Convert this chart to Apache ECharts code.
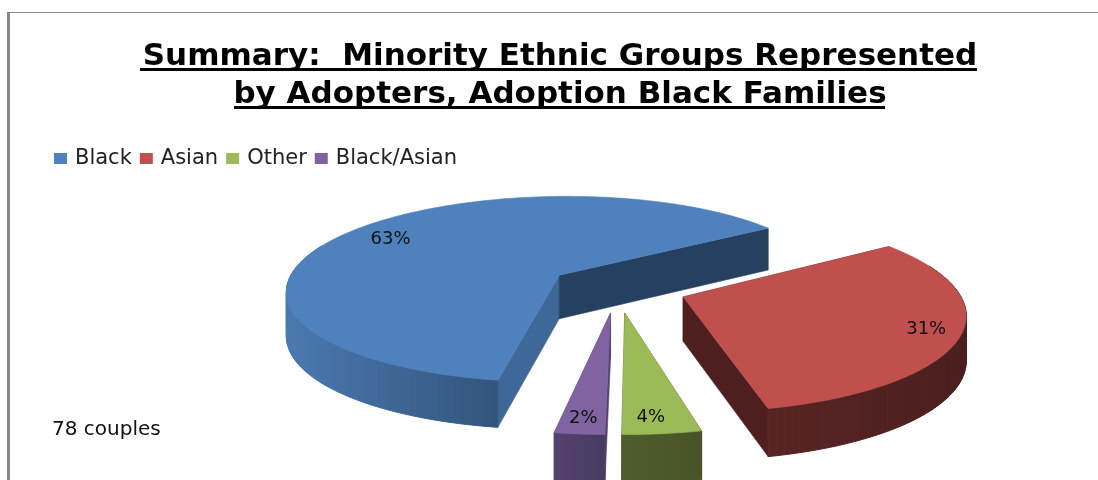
<!DOCTYPE html>
<html><head><meta charset="utf-8">
<style>html,body{margin:0;padding:0;background:#fff}#c{width:1098px;height:480px;filter:blur(0.4px)}</style>
<script src="https://cdn.jsdelivr.net/npm/echarts@6/dist/echarts.min.js"></script>
</head><body><div id="c"></div>
<script>
const categories = ['Black', 'Asian', 'Other', 'Black/Asian'];
const shares = [62.8, 30.9, 3.8, 2.4];
const titleLines = ['Summary:  Minority Ethnic Groups Represented', 'by Adopters, Adoption Black Families'];
const note = '78 couples';

const topColors = ['#4F81BD', '#C0504D', '#9BBB59', '#8064A2'];
const wallLeft = ['#4a79b0', '#582423', '#4e5c2d', '#54426e'];
const wallRight = ['#33547b', '#4b1e1e', '#485428', '#473a60'];
const faceStart = ['#3d6898', '#4d1f1f', '#4d5a2b', '#54426e'];
const faceEnd = ['#264060', '#4d1f1f', '#4d5a2b', '#54426e'];
const labelFrac = [0.78, 0.88, 0.88, 0.89];
const labelDx = [-6, 0, -6, 0];

const geo = {cx: 617, cy: 288, R: 274, e: 70, k: 0.345, P: 1800, depth: 44, start: 260.6};
const total = shares.reduce((a, b) => a + b, 0);
const rad = d => d * Math.PI / 180;
function proj(X, Y, Z) {
  const s = geo.P / (geo.P + Y);
  return [geo.cx + X * s, geo.cy - geo.k * Y * s + Z * Math.sqrt(s)];
}
function poly(points, fill) {
  return {type: 'polygon', shape: {points}, style: {fill, stroke: fill, lineWidth: 0.6}};
}
function renderer(i) {
  return function (params, api) {
    const v = api.value(0);
    let before = 0;
    for (let j = 0; j < i; j++) before += shares[j];
    const a1 = geo.start - before / total * 360;
    const a2 = a1 - v / total * 360;
    const mid = (a1 + a2) / 2;
    const ox = geo.e * Math.cos(rad(mid)), oy = geo.e * Math.sin(rad(mid));
    const rim = (a, r) => {
      const rr = r === undefined ? geo.R : r;
      return [ox + rr * Math.cos(rad(a)), oy + rr * Math.sin(rad(a))];
    };
    const children = [];
    const N = Math.max(4, Math.ceil((a1 - a2) / 1.5));
    const at = [];
    for (let n = 0; n <= N; n++) at.push(a1 + (a2 - a1) * n / N);
    // radial faces
    const pS = rim(a1), pE = rim(a2);
    children.push(poly([proj(ox, oy, 0), proj(pS[0], pS[1], 0), proj(pS[0], pS[1], geo.depth), proj(ox, oy, geo.depth)], faceStart[i]));
    children.push(poly([proj(ox, oy, 0), proj(pE[0], pE[1], 0), proj(pE[0], pE[1], geo.depth), proj(ox, oy, geo.depth)], faceEnd[i]));
    // curved wall: overlapping quads sharing one global gradient; the top covers the hidden part
    const front = at.filter(a => Math.sin(rad(a)) < 0.35);
    if (front.length > 1) {
      const xs = front.map(a => { const p = rim(a); return proj(p[0], p[1], 0)[0]; });
      const fill = new echarts.graphic.LinearGradient(Math.min(...xs), 0, Math.max(...xs), 0, [
        {offset: 0, color: wallLeft[i]}, {offset: 1, color: wallRight[i]}
      ], true);
      for (let n = 0; n < front.length - 1; n++) {
        const p = rim(front[n]), q = rim(front[n + 1]);
        children.push({type: 'polygon', shape: {points: [proj(p[0], p[1], 0), proj(q[0], q[1], 0), proj(q[0], q[1], geo.depth), proj(p[0], p[1], geo.depth)]}, style: {fill, stroke: fill, lineWidth: 1}});
      }
    }
    // top
    const top = [proj(ox, oy, 0)];
    at.forEach(a => { const p = rim(a); top.push(proj(p[0], p[1], 0)); });
    children.push(poly(top, topColors[i]));
    // label
    const lp = rim(mid, geo.R * labelFrac[i]);
    const lxy = proj(lp[0], lp[1], 0);
    children.push({type: 'text', style: {x: lxy[0] + labelDx[i], y: lxy[1], text: Math.round(v) + '%', fill: '#111', align: 'center', verticalAlign: 'middle', font: '18px "DejaVu Sans"'}});
    return {type: 'group', children};
  };
}
const series = categories.map((name, i) => ({
  type: 'custom', name, coordinateSystem: 'none', animation: false, silent: true,
  itemStyle: {color: topColors[i]},
  data: [[shares[i]]], renderItem: renderer(i)
}));
const chart = echarts.init(document.getElementById('c'), null, {renderer: 'canvas'});
chart.setOption({
  backgroundColor: '#fff',
  animation: false,
  title: {
    text: titleLines.join('\n'), left: 555, top: 33, textAlign: 'center',
    textStyle: {fontFamily: 'DejaVu Sans', fontWeight: 'bold', fontSize: 31, lineHeight: 38, color: '#000'}
  },
  legend: {
    data: categories, left: 49, top: 143, icon: 'rect', itemWidth: 13, itemHeight: 11, itemGap: 8,
    selectedMode: false,
    textStyle: {fontFamily: 'DejaVu Sans', fontSize: 21, color: '#222', padding: [0, 0, 0, 3]}
  },
  graphic: [
    {type: 'rect', shape: {x: 7, y: 12, width: 1091, height: 1}, style: {fill: '#888'}},
    {type: 'rect', shape: {x: 7, y: 12, width: 3, height: 468}, style: {fill: '#888'}},
    {type: 'rect', shape: {x: 140, y: 68, width: 837, height: 3}, style: {fill: '#000'}},
    {type: 'rect', shape: {x: 234, y: 106, width: 651, height: 3}, style: {fill: '#000'}},
    {type: 'text', style: {x: 52, y: 430, text: note, fill: '#111', verticalAlign: 'middle', font: '20px "DejaVu Sans"'}}
  ],
  series
});
</script></body></html>
